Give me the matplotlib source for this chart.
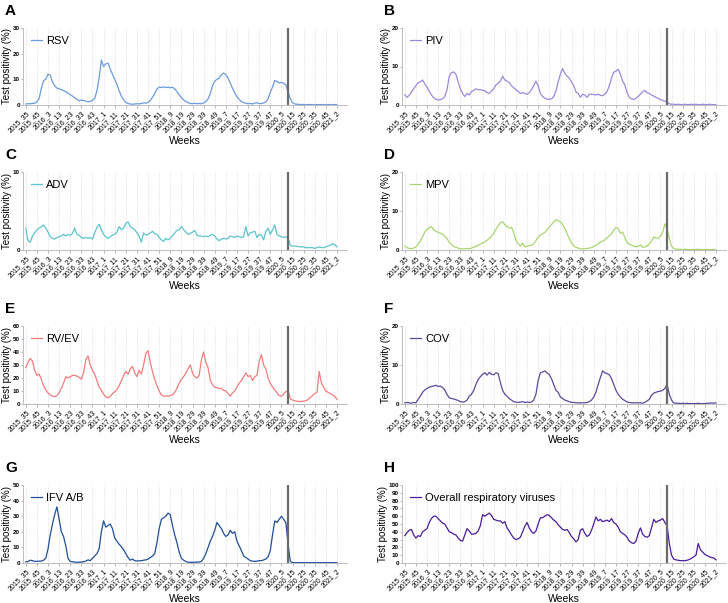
import numpy as np
import matplotlib
matplotlib.use("Agg")
import matplotlib.pyplot as plt

plt.rcParams['font.family'] = ['Liberation Sans', 'DejaVu Sans']

# ---------------- data (values every 2 weeks) ----------------
week_labels = ["2015_35", "2015_45", "2016_3", "2016_13", "2016_23", "2016_33", "2016_43",
               "2017_1", "2017_11", "2017_21", "2017_31", "2017_41", "2017_51", "2018_9",
               "2018_19", "2018_29", "2018_39", "2018_49", "2019_7", "2019_17", "2019_27",
               "2019_37", "2019_47", "2020_5", "2020_15", "2020_25", "2020_35", "2020_45",
               "2021_2"]
weeks = np.arange(0, 281, 2)
covid_week = 235.5

rsv = [0.4, 0.5, 0.5, 0.6, 0.7, 1.2, 2.5, 6.5, 9.5, 10,
       12, 11.6, 9, 7.5, 6.6, 6.3, 6.0, 5.6, 5.2, 4.6,
       4.0, 3.5, 2.8, 2.2, 1.7, 1.9, 1.8, 1.5, 1.3, 1.4,
       1.8, 2.6, 5.5, 10.5, 17.5, 15, 16, 16.3, 14, 12,
       10, 8, 5.5, 3.5, 2, 1.0, 0.6, 0.4, 0.3, 0.4,
       0.5, 0.4, 0.6, 0.8, 0.7, 1.0, 1.8, 3, 4.5, 6.2,
       7.0, 6.8, 7.1, 6.8, 7.0, 6.7, 6.9, 6.3, 5.2, 4.0,
       2.8, 2.0, 1.4, 0.9, 0.6, 0.5, 0.7, 0.5, 0.6, 0.5,
       0.8, 1.3, 2.4, 4.5, 7.5, 9.3, 10, 10.5, 11.8, 12.5,
       11.8, 10.5, 8.5, 6.5, 4.8, 3.2, 2.2, 1.3, 0.9, 0.7,
       0.5, 0.6, 0.4, 0.7, 0.9, 0.5, 0.6, 0.8, 1.2, 2.5,
       5.0, 7.0, 9.5, 9.2, 8.6, 8.8, 8.5, 7.8, 5.0, 2.5,
       0.9, 0.4, 0.3, 0.2, 0.2, 0.2, 0.1, 0.2, 0.2, 0.1,
       0.1, 0.2, 0.1, 0.2, 0.1, 0.1, 0.2, 0.1, 0.1, 0.2,
       0.1]

piv = [2.7, 2.0, 2.5, 3.4, 4.2, 5.0, 5.8, 6.0, 6.5, 5.5,
       4.6, 3.6, 2.6, 1.9, 1.5, 1.3, 1.4, 1.6, 2.2, 4.0,
       7.5, 8.4, 8.6, 8.0, 6.0, 4.2, 3.0, 2.2, 3.0, 2.6,
       3.5, 3.8, 4.2, 4.0, 4.0, 3.8, 3.7, 3.2, 3.0, 3.6,
       4.2, 5.2, 5.6, 6.2, 7.5, 6.5, 6.2, 5.8, 5.0, 4.5,
       4.0, 3.5, 3.0, 3.2, 3.0, 2.8, 3.2, 4.0, 5.0, 6.2,
       5.0, 3.0, 2.2, 1.8, 1.5, 1.5, 1.6, 2.2, 3.6, 6.0,
       8.0, 9.5, 8.2, 7.5, 7.0, 6.0, 5.0, 3.4, 3.0, 2.0,
       2.8, 2.6, 2.0, 2.8, 2.8, 2.7, 2.6, 2.8, 2.5, 2.4,
       2.8, 3.5, 5.0, 7.0, 8.5, 8.8, 9.3, 8.0, 6.2, 5.2,
       3.2, 2.0, 1.6, 1.4, 1.8, 2.2, 2.8, 3.4, 3.8, 3.2,
       3.0, 2.6, 2.3, 2.0, 1.7, 1.4, 1.2, 1.0, 0.8, 0.3,
       0.2, 0.2, 0.1, 0.2, 0.1, 0.1, 0.2, 0.1, 0.1, 0.2,
       0.1, 0.2, 0.1, 0.1, 0.2, 0.1, 0.1, 0.2, 0.1, 0.1,
       0.1]

adv = [2.8, 1.2, 1.0, 1.8, 2.2, 2.6, 2.8, 3.0, 3.2, 2.8,
       2.3, 1.7, 1.5, 1.4, 1.6, 1.7, 1.8, 2.0, 1.8, 2.0,
       1.9, 2.1, 2.8, 2.0, 1.9, 1.6, 1.5, 1.6, 1.5, 1.6,
       1.4, 2.2, 2.9, 3.3, 2.6, 2.0, 1.7, 1.5, 1.7, 1.9,
       2.0, 2.3, 3.0, 2.6, 2.8, 3.4, 3.6, 3.0, 2.8, 2.6,
       2.2, 1.8, 1.0, 2.2, 1.9, 2.0, 2.2, 2.4, 2.1, 2.0,
       1.6, 1.3, 1.1, 1.5, 1.3, 1.5, 1.8, 2.2, 2.5, 2.6,
       3.0, 2.6, 2.3, 2.0, 2.1, 2.3, 2.5, 1.9, 1.8, 1.8,
       1.7, 1.8, 1.7, 1.9, 2.0, 1.8, 1.4, 1.2, 1.4, 1.5,
       1.4, 1.5, 1.8, 1.7, 1.6, 1.8, 1.7, 1.6, 1.7, 3.0,
       1.8, 2.2, 2.3, 2.4, 1.6, 2.0, 1.9, 1.3, 2.4, 2.8,
       2.0, 2.6, 3.2, 2.0, 1.8, 1.7, 1.6, 1.7, 1.5, 0.6,
       0.5, 0.5, 0.5, 0.4, 0.4, 0.4, 0.3, 0.3, 0.3, 0.3,
       0.2, 0.3, 0.4, 0.3, 0.3, 0.4, 0.5, 0.6, 0.8, 0.7,
       0.4]

mpv = [1.0, 0.6, 0.4, 0.3, 0.5, 0.8, 1.4, 2.3, 3.4, 4.6,
       5.3, 5.7, 6.0, 5.2, 4.8, 4.5, 4.3, 4.1, 3.5, 2.9,
       2.0, 1.4, 0.9, 0.7, 0.5, 0.3, 0.3, 0.3, 0.4, 0.3,
       0.5, 0.7, 0.9, 1.2, 1.5, 1.8, 2.1, 2.5, 3.0, 3.5,
       4.3, 5.3, 6.2, 7.0, 7.2, 6.5, 6.0, 5.6, 5.8, 4.5,
       2.5, 1.6, 1.0, 1.8, 0.8, 1.0, 1.1, 1.2, 1.6, 2.4,
       3.3, 3.8, 4.2, 4.5, 5.2, 5.9, 6.5, 7.2, 7.8, 7.5,
       7.2, 6.5, 5.5, 4.2, 3.0, 1.8, 1.1, 0.7, 0.5, 0.3,
       0.3, 0.3, 0.4, 0.5, 0.6, 0.9, 1.2, 1.6, 2.0, 2.3,
       2.6, 3.1, 3.6, 4.2, 5.0, 5.8, 5.5, 4.3, 4.6, 3.2,
       2.0, 1.5, 1.2, 1.0, 0.8, 0.9, 1.3, 0.7, 0.8, 1.0,
       1.6, 2.3, 3.3, 3.1, 3.0, 3.5, 4.5, 6.7, 5.5, 3.0,
       1.0, 0.4, 0.2, 0.2, 0.2, 0.1, 0.2, 0.1, 0.1, 0.1,
       0.1, 0.1, 0.2, 0.1, 0.1, 0.1, 0.1, 0.1, 0.1, 0.1,
       0.1]

rvev = [28, 32, 35, 33, 26, 22, 23, 19, 14, 11,
        8.5, 7, 6.2, 5.6, 6.5, 8.5, 12, 16, 21, 20,
        21, 22, 22, 21.5, 20.5, 19, 24, 34, 37, 30,
        26, 23, 18, 13, 10.5, 7.5, 5.5, 4.8, 6, 8,
        9.5, 11, 14, 18, 22, 25, 23, 27, 29, 24,
        21, 26, 23, 30, 39, 41, 32, 25, 19, 14,
        10, 7, 6, 6.2, 6, 6.5, 7, 9, 12, 16,
        19, 21, 24, 27, 30, 24, 21, 20, 22, 34,
        40, 32, 28, 18, 15, 13, 12.5, 12, 12, 10.5,
        10, 8, 6, 8.5, 10, 13, 16, 18, 21, 24,
        21, 22, 18, 21, 22, 33, 38, 30, 27, 20,
        16, 13, 11, 8.5, 6.5, 6, 7.5, 9.5, 10, 4,
        3, 2.5, 2, 2, 2, 2.2, 2.5, 3.5, 5, 6.5,
        8, 9, 25, 16, 13, 10, 9, 8, 7, 6,
        3.5]

cov = [0.3, 0.4, 0.3, 0.2, 0.4, 0.3, 1.2, 2.0, 3.0, 3.6,
       4.0, 4.3, 4.5, 4.6, 4.8, 4.5, 4.6, 4.2, 3.6, 2.4,
       1.6, 1.4, 1.3, 1.1, 0.9, 0.6, 0.5, 0.6, 1.0, 2.0,
       2.5, 3.5, 5.0, 6.3, 7.0, 7.6, 8.0, 7.4, 8.1, 7.6,
       7.5, 8.0, 7.8, 5.5, 3.5, 2.5, 2.0, 1.4, 1.0, 0.6,
       0.5, 0.4, 0.5, 0.6, 0.4, 0.5, 0.4, 0.5, 1.0, 2.5,
       6.0, 8.0, 8.2, 8.5, 8.0, 7.5, 6.5, 5.0, 3.5, 3.0,
       1.8, 1.4, 1.0, 0.8, 0.6, 0.4, 0.4, 0.3, 0.3, 0.3,
       0.3, 0.3, 0.4, 0.6, 1.0, 1.8, 3.0, 5.0, 6.8, 8.5,
       8.0, 7.8, 7.5, 6.5, 5.0, 3.5, 2.5, 1.8, 1.2, 0.9,
       0.5, 0.4, 0.3, 0.3, 0.3, 0.3, 0.3, 0.2, 0.4, 0.8,
       1.2, 2.2, 2.8, 3.0, 3.2, 3.3, 3.5, 4.0, 5.0, 2.5,
       1.0, 0.3, 0.2, 0.2, 0.1, 0.2, 0.1, 0.2, 0.1, 0.1,
       0.1, 0.1, 0.2, 0.1, 0.1, 0.1, 0.2, 0.2, 0.3, 0.2,
       0.3]

ifv = [0.8, 0.9, 1.8, 1.5, 1.0, 1.1, 1.2, 1.2, 1.8, 3.0,
       9, 18, 25, 31, 36, 28, 20, 17, 11, 3,
       1.0, 0.8, 0.6, 0.5, 0.5, 0.6, 0.8, 1.2, 2, 1.5,
       3, 4.5, 6, 9, 20, 27, 23, 24, 25, 22,
       16, 14, 12, 10.5, 8.5, 6, 3.5, 1.8, 2.5, 1.5,
       1.3, 1.4, 1.5, 1.8, 2.0, 2.5, 3.5, 4.5, 6, 13,
       22, 28, 29, 30, 32, 31, 24, 18, 13, 7,
       3, 1.8, 1.0, 0.5, 0.4, 0.4, 0.5, 0.5, 0.7, 1.0,
       3, 6, 10, 14, 17, 21, 26, 24, 22, 19,
       17, 18, 21, 19, 20, 14, 11, 8, 4.5, 3.5,
       2.5, 1.5, 1.2, 1.0, 1.2, 1.5, 1.5, 2, 2.5, 4,
       8, 18, 27, 26, 28, 30, 28, 26, 12, 1,
       0.2, 0.2, 0.2, 0.2, 0.2, 0.2, 0.2, 0.2, 0.2, 0.2,
       0.2, 0.2, 0.2, 0.2, 0.2, 0.2, 0.2, 0.2, 0.2, 0.2,
       0.2]

overall = [35, 39, 42, 43, 36, 32, 35, 34, 40, 42,
           44, 52, 57, 60, 60, 57, 54, 51, 50, 45,
           40, 39, 37, 36, 32, 29, 28, 36, 44, 41,
           37, 37, 38, 41, 48, 62, 60, 62, 64, 61,
           56, 55, 54, 54, 51, 53, 45, 41, 36, 32,
           30, 31, 33, 40, 47, 52, 45, 40, 38, 41,
           50, 58, 58, 60, 62, 61, 58, 55, 53, 49,
           46, 43, 42, 43, 39, 34, 31, 27, 30, 42,
           44, 38, 34, 36, 42, 50, 59, 54, 56, 53,
           54, 55, 53, 57, 52, 50, 46, 40, 38, 36,
           33, 28, 26, 25, 28, 38, 45, 37, 34, 33,
           35, 45, 56, 52, 54, 55, 57, 52, 48, 25,
           10, 5, 4, 3.5, 3, 3, 3, 3.5, 4.5, 6,
           8, 10, 25, 17, 14, 11, 9.5, 8, 7, 6.5,
           4]

panels = [
    ("A", "RSV", rsv, "#6a9ae0", 30, [0, 10, 20, 30]),
    ("B", "PIV", piv, "#9c88e0", 20, [0, 10, 20]),
    ("C", "ADV", adv, "#5bc4cd", 10, [0, 10]),
    ("D", "MPV", mpv, "#a9d66f", 20, [0, 10, 20]),
    ("E", "RV/EV", rvev, "#f47c7c", 60, list(range(0, 61, 10))),
    ("F", "COV", cov, "#5b4a9f", 20, [0, 10, 20]),
    ("G", "IFV A/B", ifv, "#1e4f99", 50, list(range(0, 51, 10))),
    ("H", "Overall respiratory viruses", overall, "#4a1c9e", 100, list(range(0, 101, 10))),
]

# axes boxes in pixels: (left, top, right, bottom)
cols = [(23, 347), (402, 726)]
rows = [(28, 105), (172, 250), (326, 404), (485, 563)]
W, H = 728, 603

fig = plt.figure(figsize=(W / 100, H / 100), dpi=100)

for i, (letter, name, vals, color, ymax, yticks) in enumerate(panels):
    l, r = cols[i % 2]
    t, b = rows[i // 2]
    ax = fig.add_axes([l / W, 1 - b / H, (r - l) / W, (b - t) / H])

    ax.plot(weeks, vals, color=color, lw=0.9, label=name)
    ax.axvline(covid_week, color="#6b6b6b", lw=1.6)

    ax.set_xlim(-2.5, 289)
    ax.set_ylim(0, ymax)
    ax.set_xticks(np.arange(0, 281, 10))
    ax.set_xticklabels(week_labels, rotation=45, ha="right", rotation_mode="anchor")
    ax.set_yticks(yticks)
    for lbl in ax.get_yticklabels():
        lbl.set_fontweight("bold")

    ax.tick_params(axis="x", labelsize=5, length=2, width=0.5, color="#999999", pad=1.5)
    ax.tick_params(axis="y", labelsize=4.5, length=1.5, width=0.5, color="#999999", pad=0.8)
    ax.grid(axis="x", color="#cfcfcf", lw=0.5, ls=(0, (1, 1.5)))
    for s in ("top", "right"):
        ax.spines[s].set_visible(False)
    for s in ("left", "bottom"):
        ax.spines[s].set_color("#bdbdbd")
        ax.spines[s].set_linewidth(0.7)

    ax.set_xlabel("Weeks", fontsize=7.5, labelpad=1)
    ax.set_ylabel("Test positivity (%)", fontsize=7, labelpad=0.5)
    ax.legend(loc="upper left", frameon=False, fontsize=8, handlelength=1.0,
              handletextpad=0.4, borderaxespad=0.4, borderpad=0.3)

    fig.text((l - 18) / W, 1 - (t - 10) / H, letter, fontsize=11, fontweight="bold",
             ha="left", va="bottom")

fig.savefig("out.png", dpi=100)
